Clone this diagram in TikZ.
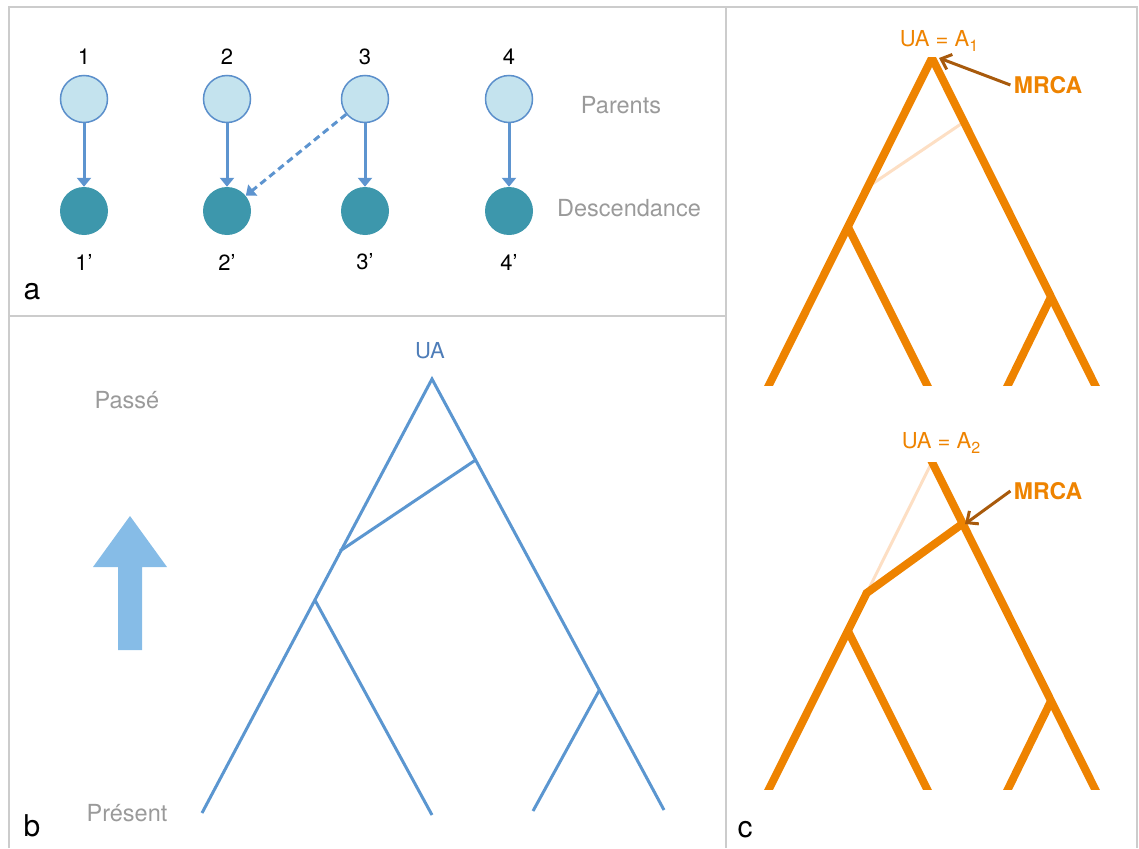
\documentclass[tikz,border=0pt]{standalone}
\usepackage{fontspec}
\setmainfont{TeX Gyre Heros}
\usetikzlibrary{arrows.meta}

\definecolor{framegray}{HTML}{CCCCCC}
\definecolor{parentfill}{HTML}{C4E3EE}
\definecolor{parentedge}{HTML}{5B8FCB}
\definecolor{childfill}{HTML}{3D97AC}
\definecolor{linkblue}{HTML}{5D94CF}
\definecolor{treeblue}{HTML}{5B96D0}
\definecolor{arrowblue}{HTML}{86BCE7}
\definecolor{labelgray}{HTML}{9A9A9A}
\definecolor{uablue}{HTML}{4E7DB8}
\definecolor{lineorange}{HTML}{EE8300}
\definecolor{paleorange}{HTML}{FDDFC4}
\definecolor{arrowbrown}{HTML}{A85A0C}

% lowered index used in the ancestor labels
\newcommand{\ancidx}[1]{\raisebox{-5pt}{\fontsize{16}{16}\selectfont #1}}

\tikzset{
  parentnode/.style={circle, draw=parentedge, line width=1.5pt, fill=parentfill,
    minimum size=47pt, inner sep=0pt},
  childnode/.style={circle, fill=childfill, minimum size=48pt, inner sep=0pt},
  numlabel/.style={font=\fontsize{22}{26}\selectfont, text=black},
  sidelabel/.style={font=\fontsize{23.5}{28}\selectfont, text=labelgray},
  panellabel/.style={font=\fontsize{30}{34}\selectfont, text=black},
  link/.style={draw=linkblue, line width=3pt, -{Triangle[width=14pt,length=9pt]}},
  btree/.style={draw=treeblue, line width=3pt},
  ctree/.style={draw=lineorange, line width=8pt},
  ghost/.style={draw=paleorange, line width=3pt},
  pointer/.style={draw=arrowbrown, line width=3pt, -{Straight Barb[length=9pt,width=16pt]}},
  ualabel/.style={font=\fontsize{22}{26}\selectfont, text=lineorange},
  mrcalabel/.style={font=\fontsize{23}{27}\selectfont\bfseries, text=lineorange},
  framegrid/.style={draw=framegray, line width=2.5pt},
}

\begin{document}
\begin{tikzpicture}[x=1pt, y=-1pt]
\useasboundingbox (0,0) rectangle (1139,848);

% panel frames
\draw[framegrid] (9,848) -- (9,7) -- (1137,7) -- (1137,848);
\draw[framegrid] (726,7) -- (726,848);
\draw[framegrid] (9,316) -- (726,316);

% ---------- panel a : parents and offspring ----------
\foreach \i/\x in {1/84, 2/227, 3/365, 4/509} {
  \node[parentnode] (p\i) at (\x,99) {};
  \node[childnode] (c\i) at (\x,211) {};
  \node[numlabel] (n\i) at (\x,57) {\i};
  \node[numlabel] (m\i) at (\x,262) {\i’};
}
\draw[link] (p1) -- (c1);
\draw[link] (p2) -- (c2);
\draw[link] (p3) -- (c3);
\draw[link] (p4) -- (c4);
\draw[link, dash pattern=on 7pt off 4.5pt] (p3) -- (c2);

\node[sidelabel] (parents) at (621,105) {Parents};
\node[sidelabel] (descend) at (629,208) {Descendance};
\node[panellabel] (pa) at (32,292) {a};

% ---------- panel b : genealogy through time ----------
\node[font=\fontsize{22}{26}\selectfont, text=uablue] (ua) at (430,351) {UA};
\coordinate (btop) at (432,379);
\coordinate (bl) at (202,813);
\coordinate (br) at (664,810);
\coordinate (bx1) at (475.6,460);
\coordinate (bx2) at (340,551);
\coordinate (bnl) at (314.9,600);
\coordinate (blm) at (432,815);
\coordinate (bnr) at (599.4,690);
\coordinate (brm) at (533,811);
\draw[btree] (bl) -- (btop) -- (br);
\draw[btree] (bx1) -- (bx2);
\draw[btree] (bnl) -- (blm);
\draw[btree] (bnr) -- (brm);

% time arrow
\fill[arrowblue] (118,650) -- (118,567) -- (93,567) -- (130,516) -- (167,567)
  -- (142,567) -- (142,650) -- cycle;
\node[sidelabel] (past) at (127,400) {Passé};
\node[sidelabel] (present) at (127,813) {Présent};
\node[panellabel] (pb) at (32,826) {b};

% ---------- panel c : ultimate ancestor vs MRCA ----------
% upper tree
\node[ualabel] (uaA) at (939,41) {UA = A\ancidx{1}};
\node[mrcalabel] (mrcaA) at (1048,85) {MRCA};
\coordinate (apexA) at (932,58);
\coordinate (lA) at (769,385);
\coordinate (rA) at (1095,385);
\coordinate (nlA) at (848,227);
\coordinate (lmA) at (927,385);
\coordinate (nrA) at (1051,297);
\coordinate (rmA) at (1008,385);
\coordinate (gA1) at (867.7,187);
\coordinate (gA2) at (963.9,122);
\begin{scope}
  \clip (740,58) rectangle (1130,385);
  \draw[ghost] (gA1) -- (gA2);
  \draw[ctree, shorten <=-14pt, shorten >=-14pt] (lA) -- (apexA) -- (rA);
  \draw[ctree, shorten >=-14pt] (nlA) -- (lmA);
  \draw[ctree, shorten >=-14pt] (nrA) -- (rmA);
\end{scope}
\coordinate (tipA) at (939,58);
\draw[pointer] (mrcaA.west) -- (tipA);

% lower tree
\node[ualabel] (uaB) at (941,443) {UA = A\ancidx{2}};
\node[mrcalabel] (mrcaB) at (1048,491) {MRCA};
\coordinate (apexB) at (932,462);
\coordinate (lB) at (769,789);
\coordinate (rB) at (1095,789);
\coordinate (nlB) at (848,631);
\coordinate (lmB) at (927,789);
\coordinate (nrB) at (1051,701);
\coordinate (rmB) at (1008,789);
\coordinate (jB) at (866.7,593);
\coordinate (mB) at (963.5,523);
\begin{scope}
  \clip (740,462) rectangle (1130,789);
  \draw[ghost] (apexB) -- (jB);
  \draw[ctree, shorten <=-14pt] (lB) -- (jB) -- (mB);
  \draw[ctree, shorten <=-14pt, shorten >=-14pt] (apexB) -- (rB);
  \draw[ctree, shorten >=-14pt] (nlB) -- (lmB);
  \draw[ctree, shorten >=-14pt] (nrB) -- (rmB);
\end{scope}
\coordinate (tipB) at (965,524);
\draw[pointer] (mrcaB.west) -- (tipB);

\node[panellabel] (pc) at (745,830) {c};
\end{tikzpicture}
\end{document}
